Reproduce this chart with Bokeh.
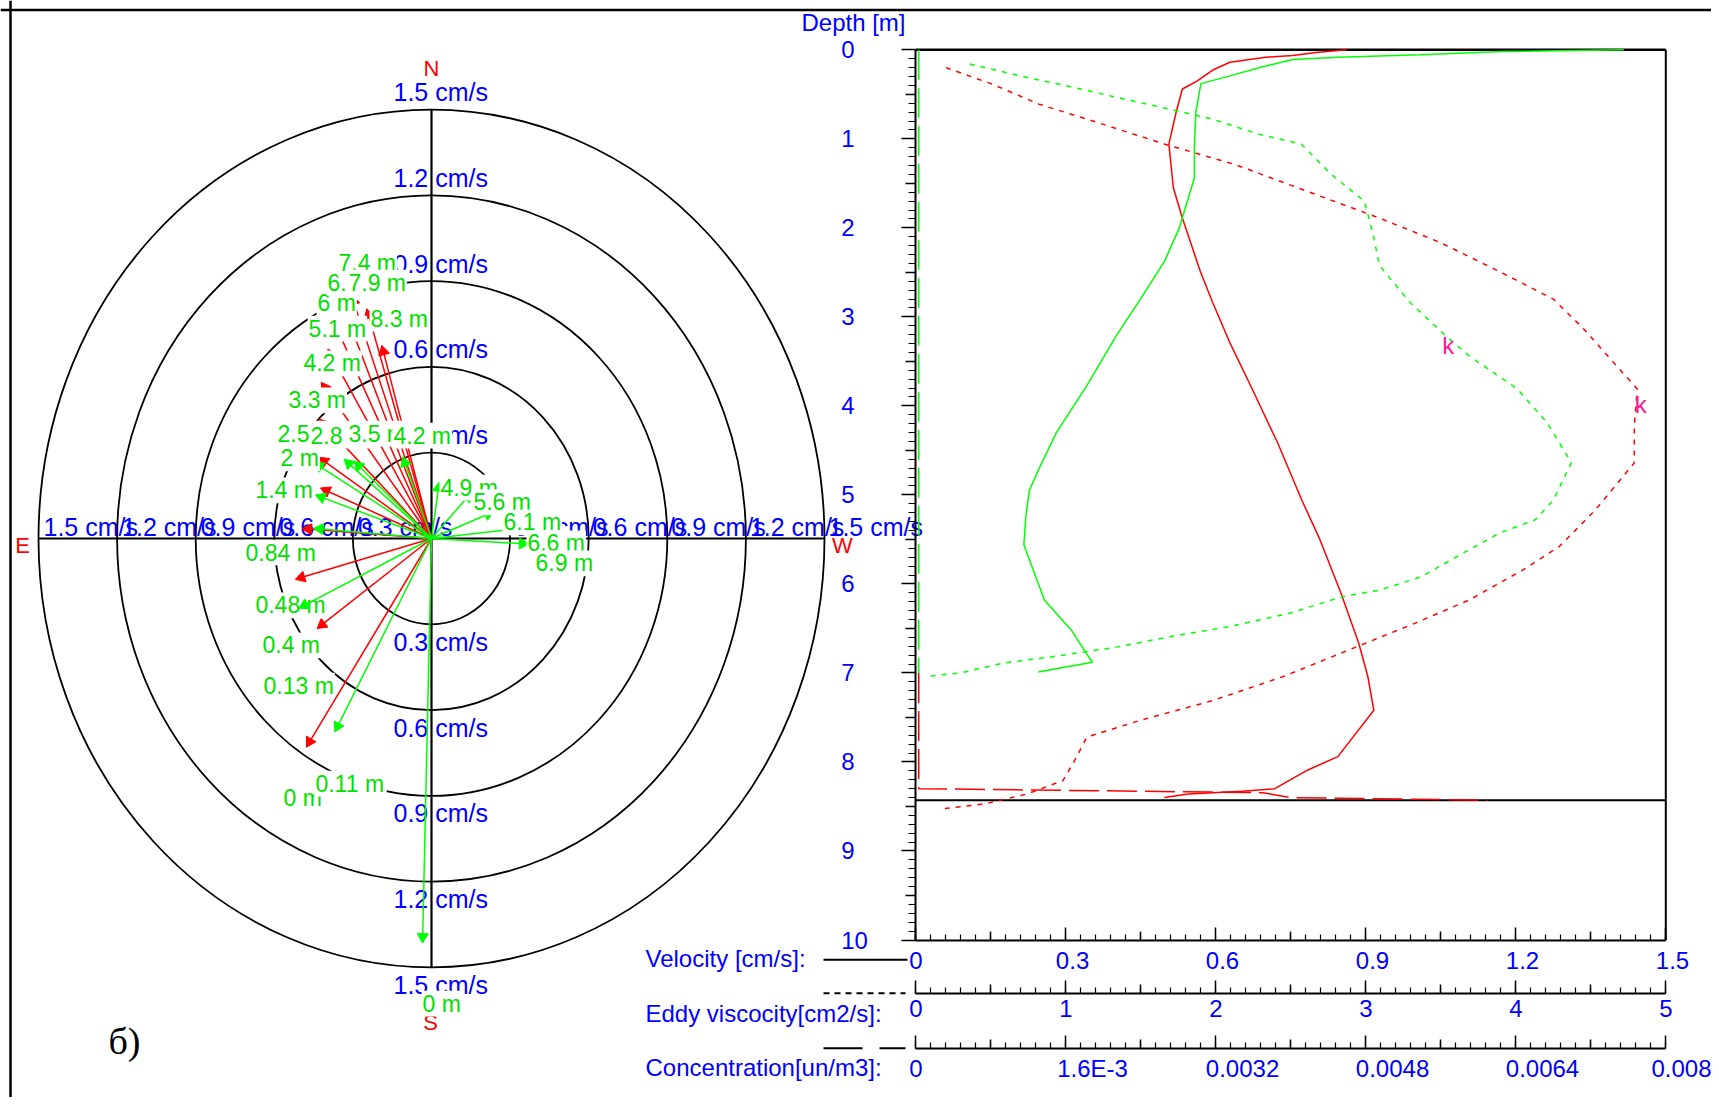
import math
from bokeh.plotting import figure
from bokeh.models import Range1d, LinearAxis, FixedTicker, Span
from bokeh.embed import file_html
from bokeh.resources import INLINE
from bokeh.core.properties import value

# ------------------------------------------------------------------ data
# hodograph rings (cm/s)
RING_SPEEDS = [0.3, 0.6, 0.9, 1.2, 1.5]

# red profile: current vectors (u = towards W, v = towards N), cm/s
RED_DEPTHS = [0, 0.13, 0.48, 0.84, 1.4, 2.5, 3.3, 4.2, 5.1, 6, 6.7, 7.4, 7.9, 8.3]
RED_U = [-0.474, -0.431, -0.513, -0.487, -0.417, -0.424, -0.424, -0.417, -0.392, -0.366, -0.341, -0.303, -0.245, -0.188]
RED_V = [-0.724, -0.311, -0.141, 0.034, 0.174, 0.280, 0.413, 0.541, 0.657, 0.745, 0.821, 0.844, 0.797, 0.669]
RED_LABEL_X = [-0.565, -0.641, -0.672, -0.710, -0.672, -0.588, -0.546, -0.489, -0.469, -0.435, -0.397, -0.355, -0.317, -0.233]
RED_LABEL_Y = [-0.909, -0.514, -0.234, -0.049, 0.168, 0.367, 0.483, 0.612, 0.734, 0.822, 0.895, 0.962, 0.895, 0.769]

# green profile
GREEN_DEPTHS = [0, 0.11, 0.4, 0.7, 1.17, 2.08, 2.75, 3.5, 4.2, 4.9, 5.6, 6.17, 6.6, 6.9]
GREEN_U = [-0.034, -0.366, -0.5, -0.443, -0.436, -0.443, -0.328, -0.29, -0.107, 0.029, 0.149, 0.232, 0.327, 0.365]
GREEN_V = [-1.408, -0.671, -0.241, 0.035, 0.150, 0.262, 0.273, 0.266, 0.280, 0.192, 0.157, 0.092, 0.034, -0.019]
GREEN_LABEL_TEXT = ["0 m", "0.11 m", "0.4 m", "2 m", "2.8 m", "3.5 m", "4.2 m", "4.9 m", "5.6 m", "6.1 m", "6.6 m", "6.9 m"]
GREEN_LABEL_X = [-0.034, -0.443, -0.645, -0.576, -0.462, -0.317, -0.145, 0.034, 0.160, 0.275, 0.366, 0.397]
GREEN_LABEL_Y = [-1.626, -0.857, -0.374, 0.280, 0.360, 0.367, 0.360, 0.178, 0.126, 0.056, -0.017, -0.087]

# vertical profiles (depth in m)
RED_VEL_DEPTH = [0, 0.03, 0.064, 0.083, 0.14, 0.23, 0.35, 0.44, 0.69, 1.06, 1.55, 1.89, 2.49, 2.83, 3.29,
                 3.85, 4.42, 5.06, 5.5, 6.1, 6.67, 7.04, 7.42, 7.94, 8.09, 8.3, 8.33, 8.36, 8.40]
RED_VEL = [0.862, 0.80, 0.754, 0.70, 0.628, 0.593, 0.563, 0.533, 0.521, 0.506, 0.515, 0.533, 0.569, 0.593, 0.628,
           0.676, 0.724, 0.772, 0.808, 0.850, 0.886, 0.904, 0.916, 0.844, 0.784, 0.718, 0.653, 0.545, 0.497]
GREEN_VEL_DEPTH = [0, 0.02, 0.057, 0.083, 0.11, 0.196, 0.29, 0.38, 0.7, 1.1, 1.44, 2.0, 2.38, 2.8, 3.21,
                   3.78, 4.3, 4.72, 4.95, 5.24, 5.56, 6.18, 6.52, 6.78, 6.88, 6.99]
GREEN_VEL = [1.416, 1.173, 1.009, 0.844, 0.754, 0.69, 0.63, 0.57, 0.56, 0.557, 0.557, 0.527, 0.497, 0.449, 0.401,
             0.341, 0.281, 0.245, 0.227, 0.22, 0.216, 0.257, 0.311, 0.341, 0.353, 0.245]

RED_EDDY_DEPTH = [0.2, 0.38, 0.61, 0.80, 1.06, 1.29, 1.59, 1.89, 2.16, 2.49, 2.80, 3.13, 3.66, 3.81, 4.23, 4.64,
                  5.17, 5.58, 5.84, 6.18, 6.44, 6.74, 7.04, 7.31, 7.53, 7.72, 7.98, 8.21, 8.36, 8.47, 8.53]
RED_EDDY = [0.2, 0.5, 0.82, 1.18, 1.66, 2.13, 2.61, 3.09, 3.49, 3.89, 4.25, 4.45, 4.73, 4.81, 4.79, 4.79,
            4.53, 4.29, 4.05, 3.69, 3.33, 2.89, 2.45, 1.98, 1.50, 1.14, 1.06, 0.98, 0.74, 0.46, 0.16]
GREEN_EDDY_DEPTH = [0.16, 0.31, 0.44, 0.535, 0.67, 0.78, 0.95, 1.06, 1.4, 1.70, 2.08, 2.42, 2.83, 3.21, 3.44,
                    3.81, 4.19, 4.64, 5.06, 5.28, 5.43, 5.69, 5.92, 6.07, 6.14, 6.33, 6.48, 6.59, 6.71, 6.82,
                    6.89, 7.0, 7.04]
GREEN_EDDY = [0.359, 0.74, 1.10, 1.34, 1.70, 1.98, 2.29, 2.57, 2.77, 2.99, 3.05, 3.09, 3.29, 3.53, 3.69,
              4.01, 4.21, 4.37, 4.25, 4.13, 3.89, 3.61, 3.37, 3.09, 2.85, 2.49, 2.09, 1.70, 1.34, 0.90,
              0.58, 0.30, 0.06]

GREEN_CONC_DEPTH = [0, 1, 2, 3, 4, 5, 6, 7.0]
GREEN_CONC = [0.00003, 0.00003, 0.00003, 0.00003, 0.00003, 0.00003, 0.00003, 0.00003]
RED_CONC_DEPTH = [7.0, 7.5, 8.0, 8.3, 8.345, 8.40, 8.43]
RED_CONC = [0.00003, 0.00003, 0.00003, 0.00003, 0.0037, 0.0040, 0.0061]

# "k" marks (velocity, depth)
K_VEL = [1.065, 1.45]
K_DEPTH = [3.32, 3.98]

# axis ticks
DEPTH_TICKS = [0, 1, 2, 3, 4, 5, 6, 7, 8, 9, 10]
DEPTH_TICK_LABELS = ["0", "1", "2", "3", "4", "5", "6", "7", "8", "9", "10"]
VEL_TICKS = [0, 0.3, 0.6, 0.9, 1.2, 1.5]
VEL_TICK_LABELS = ["0", "0.3", "0.6", "0.9", "1.2", "1.5"]
EDDY_TICKS = [0, 1, 2, 3, 4, 5]
EDDY_TICK_LABELS = ["0", "1", "2", "3", "4", "5"]
CONC_TICKS = [0, 0.0016, 0.0032, 0.0048, 0.0064, 0.008]
CONC_TICK_LABELS = ["0", "1.6E-3", "0.0032", "0.0048", "0.0064", "0.008"]

# ------------------------------------------------------------------ layout
FONT = value("Liberation Sans")
BLUE, RED, GREEN, GREEN_TXT, PINK = "#0000ff", "#ff0000", "#00ff00", "#00e000", "#ff1493"

FIG_W, FIG_H, M = 1711, 1097, 0
CX, CY, KX, KY = 431.0, 538.0, 262.0, 286.0          # hodograph centre (page px) and px per cm/s
V0X, V1X = 915.4, 1665.3                              # velocity 0 and 1.5 (page px)
D0Y, D10Y = 49.3, 939.5                               # depth 0 and 10 (page px)
KV = (V1X - V0X) / 1.5
KD = (D10Y - D0Y) / 10.0
FIGSP = "\u2007"                                      # figure space (digit width)


def pol_x(px):
    return (px - CX) / KX


def pol_y(py):
    return (CY - py) / KY


def vel_x(px):
    return (px - V0X) / KV


def dep_y(py):
    return (py - D0Y) / KD


vel_rng = Range1d(vel_x(M), vel_x(M + FIG_W))
p = figure(width=FIG_W, height=FIG_H,
           x_range=Range1d(pol_x(M), pol_x(M + FIG_W)),
           y_range=Range1d(pol_y(M + FIG_H), pol_y(M)),
           x_axis_type=None, y_axis_type=None,
           toolbar_location=None, output_backend="svg", min_border=0)
p.outline_line_color = None
p.background_fill_color = "white"
p.border_fill_color = "white"
p.extra_x_ranges = {
    "vel": vel_rng,
    "eddy": Range1d(vel_rng.start * 5 / 1.5, vel_rng.end * 5 / 1.5),
    "conc": Range1d(vel_rng.start * 0.008 / 1.5, vel_rng.end * 0.008 / 1.5),
}
p.extra_y_ranges = {"depth": Range1d(start=dep_y(M + FIG_H), end=dep_y(M))}

# outer frame lines
p.add_layout(Span(location=pol_y(9.5), dimension="width", line_color="black", line_width=2.5))
p.add_layout(Span(location=pol_x(10), dimension="height", line_color="black", line_width=2.5))

# ------------------------------------------------------------------ text helpers
CHAR_W = {".": 0.278, " ": 0.278, "c": 0.5, "m": 0.833, "/": 0.278, "s": 0.5, "E": 0.667, "-": 0.333}
ASC, DESC = 0.905, 0.212


def text_w(s, size):
    return sum(CHAR_W.get(ch, 0.556) for ch in s) * size


def boxed(xs, ys, texts, size, color, xoff=0, yoff=0, box=True):
    """left-aligned text (middle baseline), optionally on an opaque white box"""
    for x, y, t in zip(xs, ys, texts):
        if box:
            w = text_w(t, size) + 2
            cx = xoff + w / 2 - 1
            p.rect(x=[x + cx / KX], y=[y - yoff / KY], width=[w], height=[(ASC + DESC) * size],
                   width_units="screen", height_units="screen", fill_color="white", line_color=None)
        p.text(x=[x], y=[y], text=[t], x_offset=xoff, y_offset=yoff, text_font=FONT,
               text_font_size="%dpx" % size, text_color=color, text_align="left",
               text_baseline="middle")


# ------------------------------------------------------------------ hodograph
rmax = max(RING_SPEEDS)
nr = len(RING_SPEEDS)
p.ellipse(x=[0] * nr, y=[0] * nr,
          width=[2 * s for s in RING_SPEEDS], height=[2 * s for s in RING_SPEEDS],
          fill_color=None, line_color="black", line_width=1.8)

ring_txt = ["%g cm/s" % s for s in RING_SPEEDS]
boxed([0] * nr, RING_SPEEDS, ring_txt, 25, BLUE, xoff=-38, yoff=-17.5)                  # north
boxed([0] * nr, [-s for s in RING_SPEEDS], ring_txt, 25, BLUE, xoff=-38, yoff=17.5)     # south
boxed([-s for s in RING_SPEEDS[::-1]], [0] * nr, ring_txt[::-1], 25, BLUE, xoff=5, yoff=-12,
      box=False)                                                                       # east
boxed(RING_SPEEDS, [0] * nr, ring_txt, 25, BLUE, xoff=4, yoff=-12, box=False)          # west

# cross axes
p.segment(x0=[-rmax, 0], y0=[0, -rmax], x1=[rmax, 0], y1=[0, rmax], line_color="black", line_width=2.2)

# compass letters
p.text(x=[pol_x(431), pol_x(430), pol_x(22), pol_x(842)],
       y=[pol_y(68), pol_y(1022), pol_y(545), pol_y(545)],
       text=["N", "S", "E", "W"], text_font=FONT, text_font_size="22px", text_color=RED,
       text_align="center", text_baseline="middle")

p.text(x=[pol_x(124)], y=[pol_y(1040)], text=["б)"], text_font=value("Liberation Serif"),
       text_font_size="38px", text_color="black", text_align="center", text_baseline="middle")


def draw_vectors(us, vs, color):
    nn = len(us)
    p.segment(x0=[0] * nn, y0=[0] * nn, x1=us, y1=vs, line_color=color, line_width=1.5)
    ang = [math.atan2(v * KY, u * KX) for u, v in zip(us, vs)]
    hx = [u - 4.5 * math.cos(a) / KX for u, a in zip(us, ang)]
    hy = [v - 4.5 * math.sin(a) / KY for v, a in zip(vs, ang)]
    p.scatter(x=hx, y=hy, marker="triangle", size=11, angle=[a - math.pi / 2 for a in ang],
              fill_color=color, line_color=color)


draw_vectors(RED_U, RED_V, RED)
boxed(RED_LABEL_X, RED_LABEL_Y, ["%g m" % d for d in RED_DEPTHS], 23, GREEN_TXT)
draw_vectors(GREEN_U, GREEN_V, GREEN)
boxed(GREEN_LABEL_X, GREEN_LABEL_Y, GREEN_LABEL_TEXT, 23, GREEN_TXT)

# ------------------------------------------------------------------ vertical profiles
R = dict(x_range_name="vel", y_range_name="depth")
RE = dict(x_range_name="eddy", y_range_name="depth")
RC = dict(x_range_name="conc", y_range_name="depth")

# box edges and bed line
p.segment(x0=[0, 1.5, 0], y0=[0, 0, 8.43], x1=[1.5, 1.5, 1.5], y1=[0, 10, 8.43],
          line_color="black", line_width=[2.5, 2, 2], **R)

p.line(RED_VEL, RED_VEL_DEPTH, line_color=RED, line_width=1.5, **R)
p.line(GREEN_VEL, GREEN_VEL_DEPTH, line_color=GREEN, line_width=1.5, **R)
p.line(RED_EDDY, RED_EDDY_DEPTH, line_color=RED, line_width=1.5, line_dash="5 6", **RE)
p.line(GREEN_EDDY, GREEN_EDDY_DEPTH, line_color=GREEN, line_width=1.5, line_dash="5 6", **RE)
p.line(GREEN_CONC, GREEN_CONC_DEPTH, line_color=GREEN, line_width=1.5, line_dash="30 8", **RC)
p.line(RED_CONC, RED_CONC_DEPTH, line_color=RED, line_width=1.5, line_dash="30 8", **RC)

p.text(x=K_VEL, y=K_DEPTH, text=["k", "k"], text_font=FONT, text_font_size="24px",
       text_color=PINK, text_align="center", text_baseline="middle", **R)

p.text(x=[vel_x(853)], y=[dep_y(22)], text=["Depth [m]"], text_font=FONT, text_font_size="24px",
       text_color=BLUE, text_align="center", text_baseline="middle", **R)

ROW_Y = [958, 1013, 1066.7]
p.text(x=[vel_x(645)] * 3, y=[dep_y(v) for v in ROW_Y],
       text=["Velocity [cm/s]:", "Eddy viscocity[cm2/s]:", "Concentration[un/m3]:"],
       text_font=FONT, text_font_size="24px", text_color=BLUE, text_align="left",
       text_baseline="middle", **R)

EDDY_AX_Y, CONC_AX_Y = 992.7, 1047.7
p.line([vel_x(823), vel_x(907)], [dep_y(959.3)] * 2, line_color="black", line_width=2, **R)
p.line([vel_x(823), vel_x(905)], [dep_y(EDDY_AX_Y)] * 2, line_color="black", line_width=2,
       line_dash="6 5", **R)
p.line([vel_x(823), vel_x(905)], [dep_y(CONC_AX_Y)] * 2, line_color="black", line_width=2,
       line_dash="39 17", **R)


# ------------------------------------------------------------------ axes
def style(ax, tin, tout, mnin, mnout, standoff):
    ax.axis_line_color = "black"
    ax.axis_line_width = 2
    ax.major_tick_line_color = "black"
    ax.major_tick_line_width = 1.5
    ax.minor_tick_line_color = "black"
    ax.minor_tick_line_width = 1.2
    ax.major_tick_in = tin
    ax.major_tick_out = tout
    ax.minor_tick_in = mnin
    ax.minor_tick_out = mnout
    ax.major_label_text_color = BLUE
    ax.major_label_text_font = "Liberation Sans"
    ax.major_label_text_font_size = "24px"
    ax.major_label_standoff = standoff


def medium(ax, tin, tout):
    ax.axis_line_color = None
    ax.minor_tick_line_color = None
    ax.major_tick_line_color = "black"
    ax.major_tick_line_width = 1.5
    ax.major_tick_in = tin
    ax.major_tick_out = tout
    ax.major_label_text_color = None


def sub(ticks, k):
    out = []
    for a, b in zip(ticks[:-1], ticks[1:]):
        out += [a + (b - a) * i / k for i in range(k)]
    return out + [ticks[-1]]


def mids(ticks):
    return [(a + b) / 2 for a, b in zip(ticks[:-1], ticks[1:])]


def left_pad(lbl):
    # centred tick label shifted so that its text starts ~11 px left of the tick
    n = max(0, int(round((text_w(lbl, 24) - 22) / (0.556 * 24))))
    return FIGSP * n + lbl


# depth labels: pad on the right so they read left-aligned
width_max = max(len(s) for s in DEPTH_TICK_LABELS)
ax_d = LinearAxis(fixed_location=0, bounds=(0, 10), x_range_name="vel", y_range_name="depth",
                  ticker=FixedTicker(ticks=DEPTH_TICKS, minor_ticks=sub(DEPTH_TICKS, 10)),
                  major_label_overrides={t: s + FIGSP * (width_max - len(s))
                                         for t, s in zip(DEPTH_TICKS, DEPTH_TICK_LABELS)})
style(ax_d, 0, 14, 0, 7, 34)
p.add_layout(ax_d, "left")
ax_dm = LinearAxis(fixed_location=0, x_range_name="vel", y_range_name="depth",
                   ticker=FixedTicker(ticks=mids(DEPTH_TICKS)))
medium(ax_dm, 0, 10)
p.add_layout(ax_dm, "left")

for rng, ticks, labels, loc in [("vel", VEL_TICKS, VEL_TICK_LABELS, 10.0),
                                ("eddy", EDDY_TICKS, EDDY_TICK_LABELS, dep_y(EDDY_AX_Y)),
                                ("conc", CONC_TICKS, CONC_TICK_LABELS, dep_y(CONC_AX_Y))]:
    ax = LinearAxis(fixed_location=loc, bounds=(ticks[0], ticks[-1]), x_range_name=rng,
                    y_range_name="depth",
                    ticker=FixedTicker(ticks=ticks, minor_ticks=sub(ticks, 10)),
                    major_label_overrides={t: left_pad(s) for t, s in zip(ticks, labels)})
    style(ax, 13, 0, 6, 0, 7)
    p.add_layout(ax, "below")
    axm = LinearAxis(fixed_location=loc, x_range_name=rng, y_range_name="depth",
                     ticker=FixedTicker(ticks=mids(ticks)))
    medium(axm, 9, 0)
    p.add_layout(axm, "below")

open("out.html", "w").write(file_html(p, INLINE))
